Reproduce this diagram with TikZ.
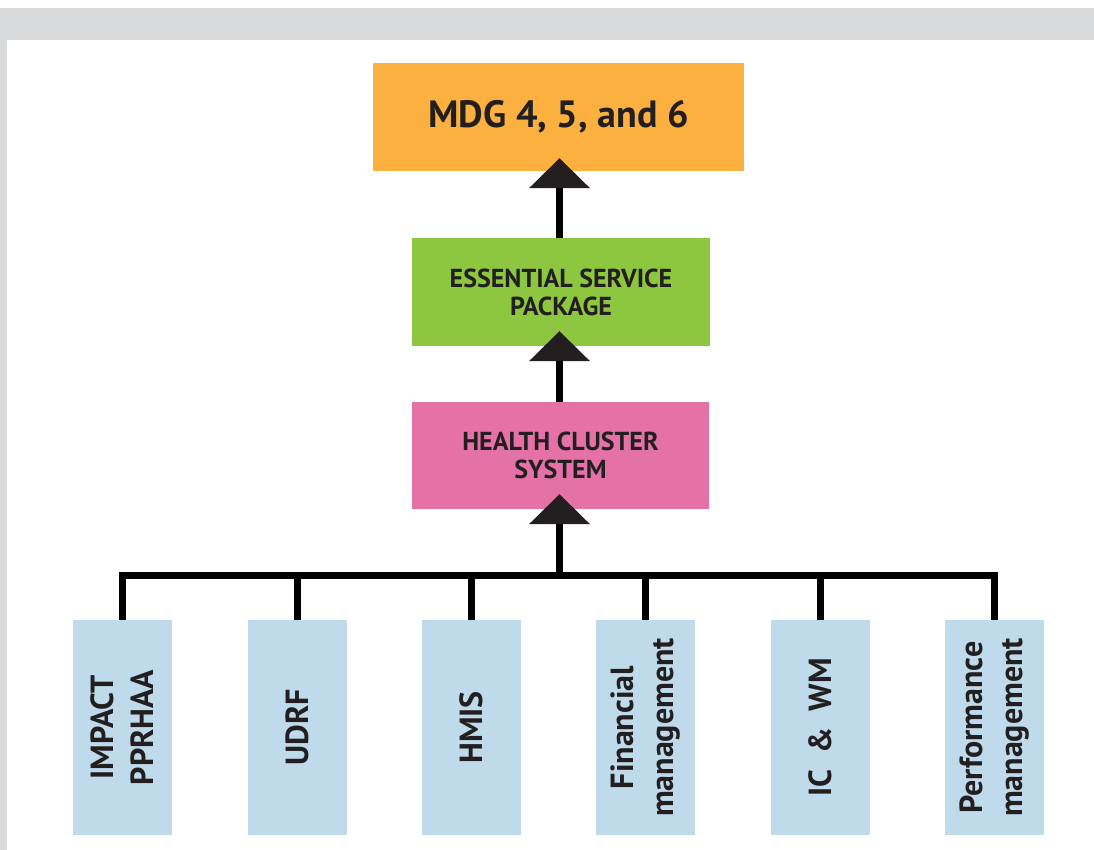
\documentclass[tikz,border=0pt]{standalone}
\usepackage{fontspec}
\setmainfont{PT Sans}
\usetikzlibrary{arrows.meta}
\definecolor{bandgray}{HTML}{D9DADB}
\definecolor{mdgorange}{HTML}{FBB040}
\definecolor{espgreen}{HTML}{8DC63F}
\definecolor{hcspink}{HTML}{E472A6}
\definecolor{compblue}{HTML}{BFDAEA}
\definecolor{inkdark}{HTML}{231F20}
\tikzset{
  topbox/.style={rectangle, inner sep=0pt, align=center, text=inkdark, font=\bfseries},
  compbox/.style={rectangle, fill=compblue, inner sep=0pt, minimum width=99pt, minimum height=215pt},
  complabel/.style={rotate=90, align=center, text=inkdark, font=\bfseries\fontsize{32}{40}\selectfont},
  uparrow/.style={line width=7pt, draw=black, -{Triangle[width=61pt,length=30pt,fill=inkdark,line width=0pt]}},
  barline/.style={line width=7.5pt, draw=black, line join=miter, line cap=butt}
}
\begin{document}
\begin{tikzpicture}[x=1pt,y=-1pt]
\useasboundingbox (0,0) rectangle (1094,850);
\fill[white] (0,0) rectangle (1094,850);
\fill[bandgray] (0,8) rectangle (1094,40);
\fill[bandgray] (0,8) rectangle (7,850);

\node[topbox, fill=mdgorange, minimum width=371pt, minimum height=108pt,
      font=\bfseries\fontsize{38}{40}\selectfont] (mdg) at (558.5,117) {MDG 4, 5, and 6};
\node[topbox, fill=espgreen, minimum width=298pt, minimum height=108pt,
      font=\bfseries\fontsize{26}{28}\selectfont] (esp) at (561,292) {ESSENTIAL SERVICE\\PACKAGE};
\node[topbox, fill=hcspink, minimum width=297pt, minimum height=107pt,
      font=\bfseries\fontsize{26}{28}\selectfont] (hcs) at (560.5,455.5) {HEALTH CLUSTER\\SYSTEM};

\node[compbox] (c1) at (122.5,727.5) {};
\node[compbox] (c2) at (297.5,727.5) {};
\node[compbox] (c3) at (471.5,727.5) {};
\node[compbox] (c4) at (645.5,727.5) {};
\node[compbox] (c5) at (820.5,727.5) {};
\node[compbox] (c6) at (994.5,727.5) {};
\node[complabel] (l1) at (c1) {IMPACT\\PPRHAA};
\node[complabel] (l2) at (c2) {UDRF};
\node[complabel] (l3) at (c3) {HMIS};
\node[complabel] (l4) at (c4) {Financial\\management};
\node[complabel] (l5) at (c5) {IC\ \ \&\ \ WM};
\node[complabel] (l6) at (c6) {Performance\\management};

\coordinate (bar) at (559.5,575.5);
\draw[barline] (c1.north) -- (c1.north |- bar) -- (c6.north |- bar) -- (c6.north);
\foreach \i in {2,3,4,5} {
  \draw[barline] (c\i.north) -- (c\i.north |- bar);
}

\coordinate (axis) at (559.5,0);
\draw[uparrow] (bar) -- ([yshift=15pt]axis |- hcs.south);
\draw[uparrow] (axis |- hcs.north) -- ([yshift=15pt]axis |- esp.south);
\draw[uparrow] (axis |- esp.north) -- ([yshift=13pt]axis |- mdg.south);
\end{tikzpicture}
\end{document}
